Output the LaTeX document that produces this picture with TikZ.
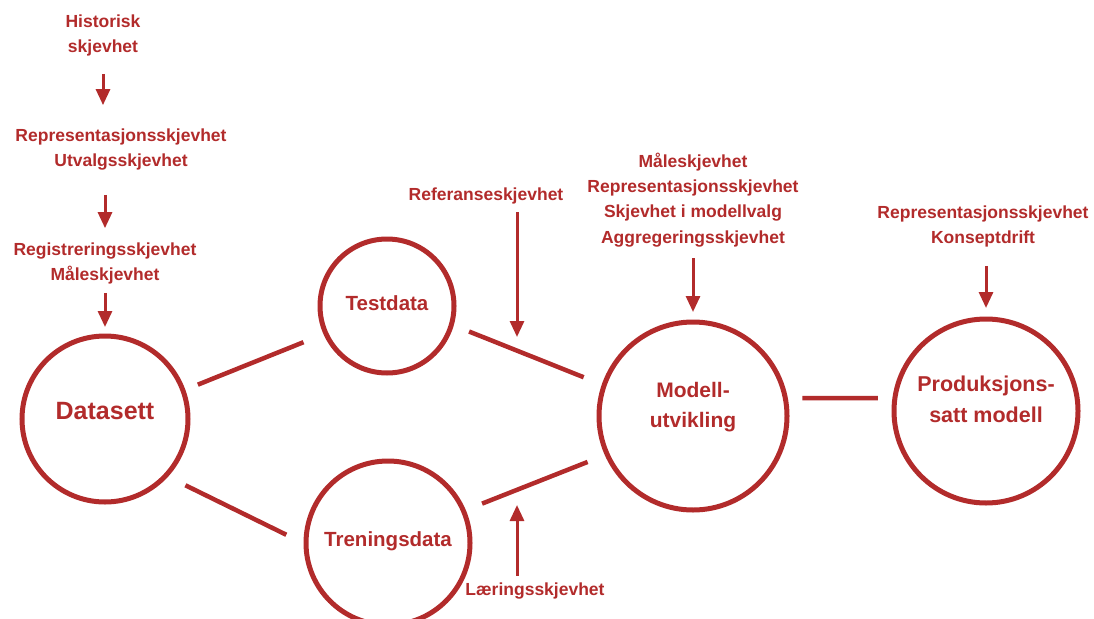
\documentclass[tikz,border=0pt]{standalone}
\usepackage{fontspec}
\setmainfont{Liberation Sans}
\usetikzlibrary{arrows.meta}
\definecolor{biasRed}{HTML}{B22B2B}
\tikzset{
  fase/.style={draw=biasRed, line width=5pt, circle, inner sep=0pt, outer sep=0pt, minimum size=#1},
  fasetekst/.style={text=biasRed, font=\bfseries\fontsize{21}{30}\selectfont, align=center, inner sep=0pt},
  skjev/.style={text=biasRed, font=\bfseries\fontsize{17.5}{25}\selectfont, align=center, inner sep=0pt},
  kobling/.style={draw=biasRed, line width=4.5pt},
  pil/.style={draw=biasRed, line width=3pt, -{Triangle[width=14pt,length=16pt]}},
}
\begin{document}
\begin{tikzpicture}[x=1pt,y=-1pt]
\useasboundingbox (0,0) rectangle (1094,618);
% faser
\node[fase=166pt, label={[fasetekst, font=\bfseries\fontsize{25}{30}\selectfont, yshift=7.5pt]center:Datasett}] (data) at (105,419) {};
\node[fase=134pt, label={[fasetekst, font=\bfseries\fontsize{20.5}{30}\selectfont, yshift=2.5pt]center:Testdata}] (test) at (387,306) {};
\node[fase=164pt, label={[fasetekst, font=\bfseries\fontsize{20.5}{30}\selectfont, yshift=1.5pt]center:Treningsdata}] (tren) at (388,543) {};
\node[fase=188pt, label={[fasetekst, yshift=8.5pt]center:{Modell-\\utvikling}}] (modell) at (693,416) {};
\node[fase=184pt, label={[fasetekst, font=\bfseries\fontsize{21.5}{31}\selectfont, yshift=12pt]center:{Produksjons-\\satt modell}}] (prod) at (986,411) {};
\draw[kobling, shorten <=16pt, shorten >=24pt] (data.20) -- (test.204);
\draw[kobling, shorten <=22pt, shorten >=22pt] (data.-43) -- (tren.181);
\draw[kobling, shorten <=19pt, shorten >=22pt] (test.-16) -- (modell.161);
\draw[kobling, shorten <=20pt, shorten >=21pt] (tren.23) -- (modell.204);
\draw[kobling, shorten <=17pt, shorten >=17pt] (modell.11) -- (prod.172);
% skjevheter
\node[skjev] (hist) at (103,35) {Historisk\\skjevhet};
\node[skjev] (repr) at (121,150) {Representasjonsskjevhet\\Utvalgsskjevhet};
\node[skjev] (reg) at (105,263) {Registreringsskjevhet\\Måleskjevhet};
\node[skjev] (ref) at (486,196) {Referanseskjevhet};
\node[skjev, font=\bfseries\fontsize{17.5}{25.3}\selectfont] (mlist) at (693,200) {Måleskjevhet\\Representasjonsskjevhet\\Skjevhet i modellvalg\\Aggregeringsskjevhet};
\node[skjev] (plist) at (983,226) {Representasjonsskjevhet\\Konseptdrift};
\node[skjev] (laer) at (535,591) {Læringsskjevhet};
\coordinate (refpunkt) at (517,337);
\coordinate (laerpunkt) at (517,505);
\draw[pil, shorten <=18pt, shorten >=24pt] (hist.south) -- (hist.south |- repr.north);
\draw[pil, shorten <=24pt, shorten >=14pt] (reg.north |- repr.south) -- (reg.north);
\draw[pil, shorten <=9pt, shorten >=9pt] (reg.south) -- (data.north);
\draw[pil, shorten <=8pt] (ref.south -| refpunkt) -- (refpunkt);
\draw[pil, shorten <=11pt, shorten >=10pt] (mlist.south) -- (modell.north);
\draw[pil, shorten <=19pt, shorten >=11pt] (plist.south -| prod.north) -- (prod.north);
\draw[pil, shorten <=7pt] (laer.north -| laerpunkt) -- (laerpunkt);
\end{tikzpicture}
\end{document}
